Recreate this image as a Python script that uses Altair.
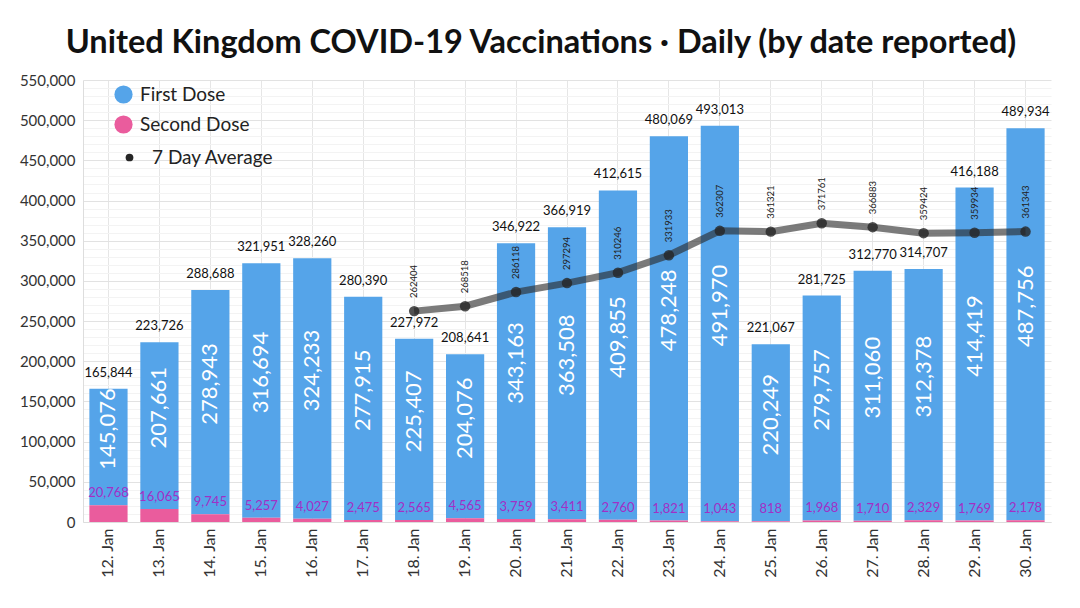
import altair as alt
import pandas as pd

dates = ["12. Jan", "13. Jan", "14. Jan", "15. Jan", "16. Jan", "17. Jan", "18. Jan",
         "19. Jan", "20. Jan", "21. Jan", "22. Jan", "23. Jan", "24. Jan", "25. Jan",
         "26. Jan", "27. Jan", "28. Jan", "29. Jan", "30. Jan"]
first_dose = [145076, 207661, 278943, 316694, 324233, 277915, 225407, 204076, 343163,
              363508, 409855, 478248, 491970, 220249, 279757, 311060, 312378, 414419, 487756]
second_dose = [20768, 16065, 9745, 5257, 4027, 2475, 2565, 4565, 3759, 3411, 2760,
               1821, 1043, 818, 1968, 1710, 2329, 1769, 2178]
avg_dates = dates[6:]
avg7 = [262404, 268518, 286118, 297294, 310246, 331933, 362307, 361321, 371761,
        366883, 359424, 359934, 361343]
series_names = ["First Dose", "Second Dose"]
avg_name = "7 Day Average"
y_ticks = list(range(0, 550001, 50000))
y_minor = [v for v in range(0, 550001, 10000) if v % 50000 != 0]

FONT = "Lato"
BLUE = "#55a4e9"
PINK = "#ea5c9d"
MAGENTA = "#a22fc6"

n = len(dates)
long_df = pd.DataFrame({
    "date": dates * 2,
    "series": [series_names[0]] * n + [series_names[1]] * n,
    "value": first_dose + second_dose,
    "ord": [1] * n + [0] * n,
})
wide_df = pd.DataFrame({"date": dates, "first": first_dose, "second": second_dose})
avg_df = pd.DataFrame({"date": avg_dates, "avg": avg7, "s": [avg_name] * len(avg7)})

x_enc = alt.X(
    "date:N", sort=dates, title=None,
    scale=alt.Scale(paddingInner=0.25, paddingOuter=0.125),
    axis=alt.Axis(labelAngle=-90, labelFontSize=16, labelFont=FONT, labelColor="#333",
                  labelAlign="right", labelBaseline="middle", labelPadding=6,
                  ticks=False, grid=True, gridColor="#e6e6e6", bandPosition=0.5,
                  domainColor="#dddddd"),
)
y_scale = alt.Scale(domain=[0, 550000], nice=False, zero=True)

bars = alt.Chart(long_df).mark_bar().encode(
    x=x_enc,
    y=alt.Y("value:Q", stack="zero", scale=y_scale, title=None,
            axis=alt.Axis(values=y_ticks, format=",.0f", labelFontSize=15, labelFont=FONT,
                          labelColor="#333", ticks=False, gridColor="#e2e2e2",
                          domainColor="#dddddd", labelPadding=8)),
    color=alt.Color("series:N",
                    scale=alt.Scale(domain=series_names, range=[BLUE, PINK]),
                    legend=alt.Legend(orient="none", legendX=31, legendY=5, title=None,
                                      symbolType="circle", symbolSize=330,
                                      symbolStrokeWidth=0, symbolOpacity=1,
                                      labelFontSize=19, labelFont=FONT, labelColor="#222",
                                      labelOffset=7, rowPadding=10)),
    order=alt.Order("ord:Q"),
)

minor = alt.Chart(wide_df).mark_text(opacity=0).encode(
    x=alt.X("date:N", sort=dates),
    y=alt.Y("second:Q", scale=y_scale,
            axis=alt.Axis(orient="left", values=y_minor, labels=False, ticks=False,
                          domain=False, grid=True, gridColor="#f3f3f3", title=None)),
    text="second:Q",
)

second_lbl = alt.Chart(wide_df).mark_text(
    dy=-12, fontSize=13, font=FONT, color=MAGENTA, baseline="middle", align="center"
).encode(
    x=alt.X("date:N", sort=dates),
    y=alt.Y("second:Q", scale=y_scale, axis=None),
    text=alt.Text("second:Q", format=","),
)

total_lbl = alt.Chart(wide_df).transform_calculate(
    total="datum.first + datum.second"
).mark_text(
    dy=-9, fontSize=13, font=FONT, color="#111", baseline="bottom", align="center"
).encode(
    x=alt.X("date:N", sort=dates),
    y=alt.Y("total:Q", scale=y_scale, axis=None),
    text=alt.Text("total:Q", format=","),
)

first_lbl = alt.Chart(wide_df).transform_calculate(
    mid="datum.second + datum.first / 2"
).mark_text(
    angle=270, dx=18, fontSize=22, font=FONT, color="white", baseline="middle",
    align="center"
).encode(
    x=alt.X("date:N", sort=dates),
    y=alt.Y("mid:Q", scale=y_scale, axis=None),
    text=alt.Text("first:Q", format=","),
)

line = alt.Chart(avg_df).mark_line(color="#2a2a2a", opacity=0.62, strokeWidth=7).encode(
    x=alt.X("date:N", sort=dates),
    y=alt.Y("avg:Q", scale=y_scale, axis=None),
)

pts = alt.Chart(avg_df).mark_point(filled=True, color="#262626", size=110, opacity=0.8).encode(
    x=alt.X("date:N", sort=dates),
    y=alt.Y("avg:Q", scale=y_scale, axis=None),
    shape=alt.Shape("s:N", scale=alt.Scale(domain=[avg_name], range=["circle"]),
                    legend=alt.Legend(orient="none", legendX=37, legendY=68, title=None,
                                      symbolSize=60, symbolFillColor="#333",
                                      symbolStrokeWidth=0, symbolOpacity=1,
                                      labelFontSize=19, labelFont=FONT, labelColor="#222",
                                      labelOffset=13)),
)

avg_lbl = alt.Chart(avg_df).mark_text(
    angle=270, dx=13, fontSize=9.5, font=FONT, color="#222", baseline="middle", align="left"
).encode(
    x=alt.X("date:N", sort=dates),
    y=alt.Y("avg:Q", scale=y_scale, axis=None),
    text="avg:Q",
)

chart = alt.layer(
    bars, minor, second_lbl, total_lbl, first_lbl, line, pts, avg_lbl
).resolve_axis(y="independent").properties(
    width=968, height=442,
    autosize=alt.AutoSizeParams(type="none"),
    padding={"left": 75, "top": 72, "right": 21, "bottom": 78},
    title=alt.TitleParams(
        "United Kingdom COVID-19 Vaccinations · Daily (by date reported)",
        fontSize=32.5, font=FONT, fontWeight="bold", color="#111", anchor="middle",
        dx=-26, offset=14),
    background="white",
).configure_view(stroke=None)

chart.save("out.html", embed_options={"renderer": "svg", "actions": False})
